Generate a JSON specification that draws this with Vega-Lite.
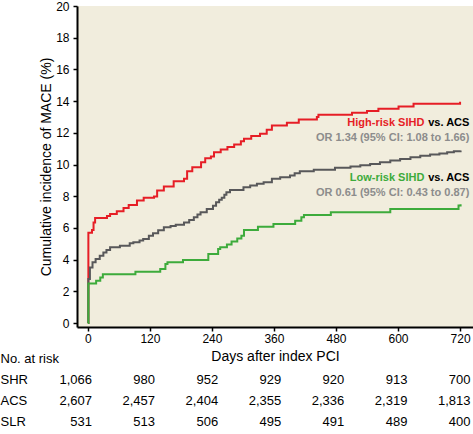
{
  "$schema": "https://vega.github.io/schema/vega-lite/v6.json",
  "padding": {"left": 0, "top": 0, "right": 0, "bottom": 0},
  "spacing": 21,
  "bounds": "flush",
  "background": "white",
  "config": {
    "view": {"stroke": null},
    "axis": {"domainColor": "black", "domainWidth": 2, "tickColor": "black", "tickWidth": 1.5, "tickSize": 4, "labelColor": "black", "titleColor": "black", "grid": false, "titleFontWeight": "normal", "labelFont": "Liberation Sans", "labelFontSize": 12, "labelOverlap": false, "titleFont": "Liberation Sans", "titleFontSize": 14}
  },
  "datasets": {
    "curves": [
      {"s":"SHR","d":0,"v":0},{"s":"SHR","d":1,"v":5.7},{"s":"SHR","d":8,"v":5.87},{"s":"SHR","d":11,"v":6.35},{"s":"SHR","d":14,"v":6.63},{"s":"SHR","d":37,"v":6.76},{"s":"SHR","d":43,"v":6.88},{"s":"SHR","d":56,"v":7.05},{"s":"SHR","d":69,"v":7.26},{"s":"SHR","d":79,"v":7.45},{"s":"SHR","d":95,"v":7.73},{"s":"SHR","d":108,"v":7.9},{"s":"SHR","d":128,"v":7.98},{"s":"SHR","d":134,"v":8.36},{"s":"SHR","d":147,"v":8.61},{"s":"SHR","d":166,"v":8.95},{"s":"SHR","d":186,"v":9.1},{"s":"SHR","d":192,"v":9.58},{"s":"SHR","d":202,"v":9.83},{"s":"SHR","d":219,"v":10.15},{"s":"SHR","d":227,"v":10.4},{"s":"SHR","d":238,"v":10.5},{"s":"SHR","d":244,"v":10.78},{"s":"SHR","d":257,"v":10.95},{"s":"SHR","d":270,"v":11.1},{"s":"SHR","d":283,"v":11.26},{"s":"SHR","d":296,"v":11.47},{"s":"SHR","d":302,"v":11.62},{"s":"SHR","d":316,"v":11.8},{"s":"SHR","d":333,"v":11.94},{"s":"SHR","d":346,"v":12.2},{"s":"SHR","d":356,"v":12.46},{"s":"SHR","d":385,"v":12.63},{"s":"SHR","d":408,"v":12.84},{"s":"SHR","d":443,"v":12.99},{"s":"SHR","d":446,"v":13.14},{"s":"SHR","d":511,"v":13.27},{"s":"SHR","d":540,"v":13.37},{"s":"SHR","d":562,"v":13.52},{"s":"SHR","d":601,"v":13.66},{"s":"SHR","d":630,"v":13.83},{"s":"SHR","d":720,"v":13.96},
      {"s":"ACS","d":0,"v":0},{"s":"ACS","d":1,"v":2.78},{"s":"ACS","d":4,"v":3.51},{"s":"ACS","d":9,"v":3.83},{"s":"ACS","d":15,"v":4.04},{"s":"ACS","d":23,"v":4.25},{"s":"ACS","d":30,"v":4.45},{"s":"ACS","d":36,"v":4.6},{"s":"ACS","d":43,"v":4.78},{"s":"ACS","d":62,"v":4.88},{"s":"ACS","d":81,"v":5.03},{"s":"ACS","d":88,"v":5.09},{"s":"ACS","d":100,"v":5.2},{"s":"ACS","d":107,"v":5.3},{"s":"ACS","d":118,"v":5.5},{"s":"ACS","d":126,"v":5.66},{"s":"ACS","d":136,"v":5.85},{"s":"ACS","d":147,"v":6.04},{"s":"ACS","d":160,"v":6.12},{"s":"ACS","d":170,"v":6.2},{"s":"ACS","d":186,"v":6.35},{"s":"ACS","d":196,"v":6.5},{"s":"ACS","d":205,"v":6.67},{"s":"ACS","d":212,"v":6.85},{"s":"ACS","d":218,"v":6.99},{"s":"ACS","d":230,"v":7.2},{"s":"ACS","d":242,"v":7.4},{"s":"ACS","d":248,"v":7.62},{"s":"ACS","d":254,"v":7.78},{"s":"ACS","d":259,"v":7.9},{"s":"ACS","d":264,"v":8.1},{"s":"ACS","d":268,"v":8.25},{"s":"ACS","d":275,"v":8.4},{"s":"ACS","d":301,"v":8.57},{"s":"ACS","d":314,"v":8.67},{"s":"ACS","d":327,"v":8.78},{"s":"ACS","d":340,"v":8.88},{"s":"ACS","d":356,"v":9.1},{"s":"ACS","d":372,"v":9.2},{"s":"ACS","d":391,"v":9.3},{"s":"ACS","d":400,"v":9.45},{"s":"ACS","d":410,"v":9.58},{"s":"ACS","d":437,"v":9.67},{"s":"ACS","d":478,"v":9.79},{"s":"ACS","d":508,"v":9.87},{"s":"ACS","d":527,"v":9.95},{"s":"ACS","d":546,"v":10.04},{"s":"ACS","d":565,"v":10.15},{"s":"ACS","d":585,"v":10.25},{"s":"ACS","d":604,"v":10.35},{"s":"ACS","d":624,"v":10.46},{"s":"ACS","d":643,"v":10.55},{"s":"ACS","d":662,"v":10.63},{"s":"ACS","d":680,"v":10.7},{"s":"ACS","d":695,"v":10.78},{"s":"ACS","d":708,"v":10.83},{"s":"ACS","d":721,"v":10.88},
      {"s":"SLR","d":0,"v":0},{"s":"SLR","d":1,"v":2.5},{"s":"SLR","d":16,"v":2.67},{"s":"SLR","d":24,"v":2.88},{"s":"SLR","d":29,"v":3.08},{"s":"SLR","d":92,"v":3.24},{"s":"SLR","d":140,"v":3.41},{"s":"SLR","d":150,"v":3.73},{"s":"SLR","d":154,"v":3.83},{"s":"SLR","d":184,"v":3.98},{"s":"SLR","d":233,"v":4.36},{"s":"SLR","d":252,"v":4.67},{"s":"SLR","d":256,"v":4.78},{"s":"SLR","d":269,"v":4.95},{"s":"SLR","d":278,"v":5.14},{"s":"SLR","d":289,"v":5.33},{"s":"SLR","d":297,"v":5.51},{"s":"SLR","d":302,"v":5.87},{"s":"SLR","d":329,"v":6.08},{"s":"SLR","d":359,"v":6.25},{"s":"SLR","d":401,"v":6.46},{"s":"SLR","d":413,"v":6.67},{"s":"SLR","d":418,"v":6.82},{"s":"SLR","d":470,"v":6.99},{"s":"SLR","d":585,"v":7.2},{"s":"SLR","d":717,"v":7.41},{"s":"SLR","d":721,"v":7.5}
    ],
    "atrisk": [
      {"g":"SHR","d":0,"n":1066},{"g":"SHR","d":120,"n":980},{"g":"SHR","d":240,"n":952},{"g":"SHR","d":360,"n":929},{"g":"SHR","d":480,"n":920},{"g":"SHR","d":600,"n":913},{"g":"SHR","d":720,"n":700},
      {"g":"ACS","d":0,"n":2607},{"g":"ACS","d":120,"n":2457},{"g":"ACS","d":240,"n":2404},{"g":"ACS","d":360,"n":2355},{"g":"ACS","d":480,"n":2336},{"g":"ACS","d":600,"n":2319},{"g":"ACS","d":720,"n":1813},
      {"g":"SLR","d":0,"n":531},{"g":"SLR","d":120,"n":513},{"g":"SLR","d":240,"n":506},{"g":"SLR","d":360,"n":495},{"g":"SLR","d":480,"n":491},{"g":"SLR","d":600,"n":489},{"g":"SLR","d":720,"n":400}
    ],
    "one": [{}]
  },
  "vconcat": [
    {
      "width": 396,
      "height": 321,
      "view": {"fill": "#f1eddd", "stroke": null},
      "layer": [
        {
          "data": {"name": "curves"},
          "mark": {"type": "line", "interpolate": "step-after", "strokeWidth": 2},
          "encoding": {
            "x": {"field": "d", "type": "quantitative", "scale": {"domain": [-21, 745], "nice": false, "zero": false}, "axis": {"values": [0, 120, 240, 360, 480, 600, 720], "title": "Days after index PCI", "labelPadding": 2, "titlePadding": 5}},
            "y": {"field": "v", "type": "quantitative", "scale": {"domain": [-0.25, 20], "nice": false, "zero": false}, "axis": {"values": [0, 2, 4, 6, 8, 10, 12, 14, 16, 18, 20], "tickCount": 11, "labelOverlap": false, "title": "Cumulative incidence of MACE (%)", "labelPadding": 4, "titlePadding": 2.5}},
            "color": {"field": "s", "type": "nominal", "scale": {"domain": ["ACS", "SLR", "SHR"], "range": ["#58585a", "#3dab3b", "#e61e26"]}, "legend": null}
          }
        },
        {
          "data": {"name": "one"},
          "mark": {"type": "text", "align": "right", "baseline": "middle", "font": "Liberation Sans", "fontWeight": "bold", "fontSize": 11, "color": "black"},
          "encoding": {"x": {"datum": 738}, "y": {"datum": 12.59}, "text": {"value": "vs. ACS"}}
        },
        {
          "data": {"name": "one"},
          "mark": {"type": "text", "align": "right", "baseline": "middle", "font": "Liberation Sans", "fontWeight": "bold", "fontSize": 11, "color": "#e61e26", "dx": -45},
          "encoding": {"x": {"datum": 738}, "y": {"datum": 12.59}, "text": {"value": "High-risk SIHD"}}
        },
        {
          "data": {"name": "one"},
          "mark": {"type": "text", "align": "right", "baseline": "middle", "font": "Liberation Sans", "fontWeight": "bold", "fontSize": 11, "color": "#8c8c8c"},
          "encoding": {"x": {"datum": 738}, "y": {"datum": 11.7}, "text": {"value": "OR 1.34 (95% CI: 1.08 to 1.66)"}}
        },
        {
          "data": {"name": "one"},
          "mark": {"type": "text", "align": "right", "baseline": "middle", "font": "Liberation Sans", "fontWeight": "bold", "fontSize": 11, "color": "black"},
          "encoding": {"x": {"datum": 738}, "y": {"datum": 9.18}, "text": {"value": "vs. ACS"}}
        },
        {
          "data": {"name": "one"},
          "mark": {"type": "text", "align": "right", "baseline": "middle", "font": "Liberation Sans", "fontWeight": "bold", "fontSize": 11, "color": "#3dab3b", "dx": -45},
          "encoding": {"x": {"datum": 738}, "y": {"datum": 9.18}, "text": {"value": "Low-risk SIHD"}}
        },
        {
          "data": {"name": "one"},
          "mark": {"type": "text", "align": "right", "baseline": "middle", "font": "Liberation Sans", "fontWeight": "bold", "fontSize": 11, "color": "#8c8c8c"},
          "encoding": {"x": {"datum": 738}, "y": {"datum": 8.23}, "text": {"value": "OR 0.61 (95% CI: 0.43 to 0.87)"}}
        }
      ]
    },
    {
      "width": 396,
      "height": 84,
      "data": {"name": "atrisk"},
      "mark": {"type": "text", "align": "right", "baseline": "middle", "font": "Liberation Sans", "fontSize": 13, "color": "black"},
      "encoding": {
        "x": {"field": "d", "type": "quantitative", "scale": {"domain": [-28.5, 724.8], "nice": false, "zero": false}, "axis": null},
        "y": {"field": "g", "type": "nominal", "scale": {"type": "point", "domain": ["No. at risk", "SHR", "ACS", "SLR"], "padding": 0.5}, "axis": {"title": null, "domain": false, "ticks": false, "tickSize": 0, "labelAlign": "left", "labelPadding": 77, "labelFont": "Liberation Sans", "labelFontSize": 13, "labelLimit": 0}},
        "text": {"field": "n", "type": "quantitative", "format": ","}
      }
    }
  ]
}
